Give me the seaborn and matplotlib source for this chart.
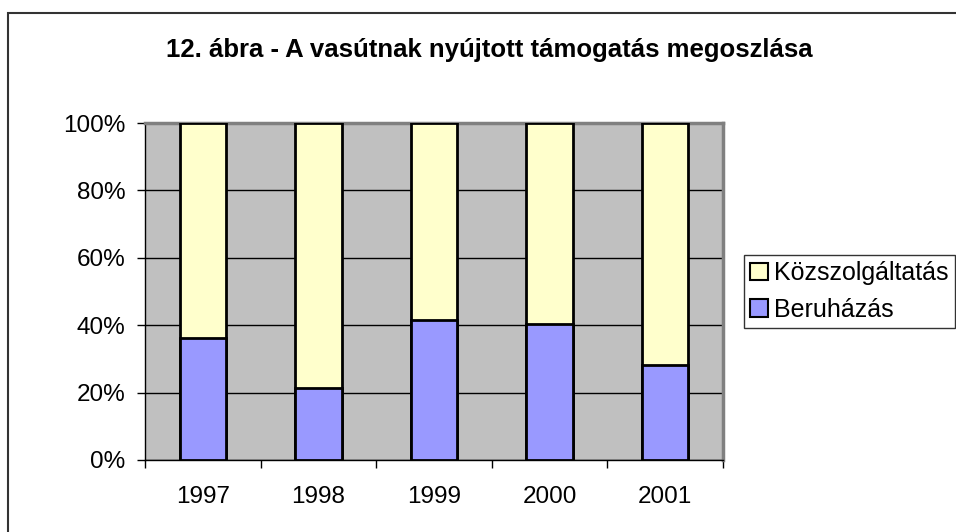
import matplotlib
matplotlib.use("Agg")
import matplotlib.pyplot as plt
import seaborn as sns
import pandas as pd
import numpy as np
from matplotlib.patches import Rectangle, Patch
from matplotlib.ticker import FixedLocator

years = ["1997", "1998", "1999", "2000", "2001"]
beruhazas = [36.2, 21.5, 41.5, 40.5, 28.1]
kozszolg = [100 - b for b in beruhazas]
y_ticks = [0, 20, 40, 60, 80, 100]
y_labels = ["0%", "20%", "40%", "60%", "80%", "100%"]

sns.set_theme(style="white")
plt.rcParams['font.family'] = ['Liberation Sans', 'DejaVu Sans']

W, H = 956, 532
fig = plt.figure(figsize=(W / 100, H / 100), dpi=100)
fig.patch.set_facecolor("white")

# outer frame
fig.patches.append(Rectangle((8 / W, -0.1), 1.2, (H - 13) / H + 0.1, transform=fig.transFigure,
                             fill=False, edgecolor="#333333", linewidth=1.5))

left, right, top, bottom = 145, 723, 123, 460
ax = fig.add_axes([left / W, 1 - bottom / H, (right - left) / W, (bottom - top) / H])
ax.set_facecolor("#C0C0C0")

df = pd.DataFrame({"year": years, "total": [b + k for b, k in zip(beruhazas, kozszolg)],
                   "beru": beruhazas})

sns.barplot(data=df, x="year", y="total", color="#FFFFCC", edgecolor="black",
            linewidth=2, width=0.4, saturation=1, ax=ax, zorder=3)
sns.barplot(data=df, x="year", y="beru", color="#9999FF", edgecolor="black",
            linewidth=2, width=0.4, saturation=1, ax=ax, zorder=4)

ax.set_ylim(0, 100)
ax.set_xlim(-0.5, len(years) - 0.5)
ax.set_yticks(y_ticks)
ax.set_yticklabels(y_labels)
ax.yaxis.grid(True, color="black", linewidth=1)
ax.set_axisbelow(True)
ax.set_xlabel("")
ax.set_ylabel("")

ax.tick_params(axis="y", which="major", length=6, width=1, color="black",
               direction="out", labelsize=17.5, pad=8, left=True, labelcolor="black")
ax.tick_params(axis="x", which="major", length=0, labelsize=17.5, pad=19, labelcolor="black")
ax.xaxis.set_minor_locator(FixedLocator(np.arange(-0.5, len(years), 1.0)))
ax.tick_params(axis="x", which="minor", length=6, width=1, color="black",
               direction="out", bottom=True)

for s in ["left", "bottom"]:
    ax.spines[s].set_color("black")
    ax.spines[s].set_linewidth(1)
for s in ["top", "right"]:
    ax.spines[s].set_color("#808080")
    ax.spines[s].set_linewidth(2.5)

fig.text(489 / W, 1 - 56.5 / H, "12. ábra - A vasútnak nyújtott támogatás megoszlása",
         ha="center", va="baseline", fontsize=18.5, fontweight="bold", color="black")

handles = [Patch(facecolor="#FFFFCC", edgecolor="black", linewidth=1.5, label="Közszolgáltatás"),
           Patch(facecolor="#9999FF", edgecolor="black", linewidth=1.5, label="Beruházás")]
leg = fig.legend(handles=handles, loc="upper left",
                 bbox_to_anchor=(744 / W, 1 - 255 / H), frameon=True, fancybox=False,
                 fontsize=18, handlelength=0.7, handleheight=0.7, handletextpad=0.25,
                 borderpad=0.25, labelspacing=0.5, borderaxespad=0, labelcolor="black")
leg.get_frame().set_edgecolor("black")
leg.get_frame().set_linewidth(1)
leg.get_frame().set_facecolor("white")

fig.savefig("out.png", dpi=100)
